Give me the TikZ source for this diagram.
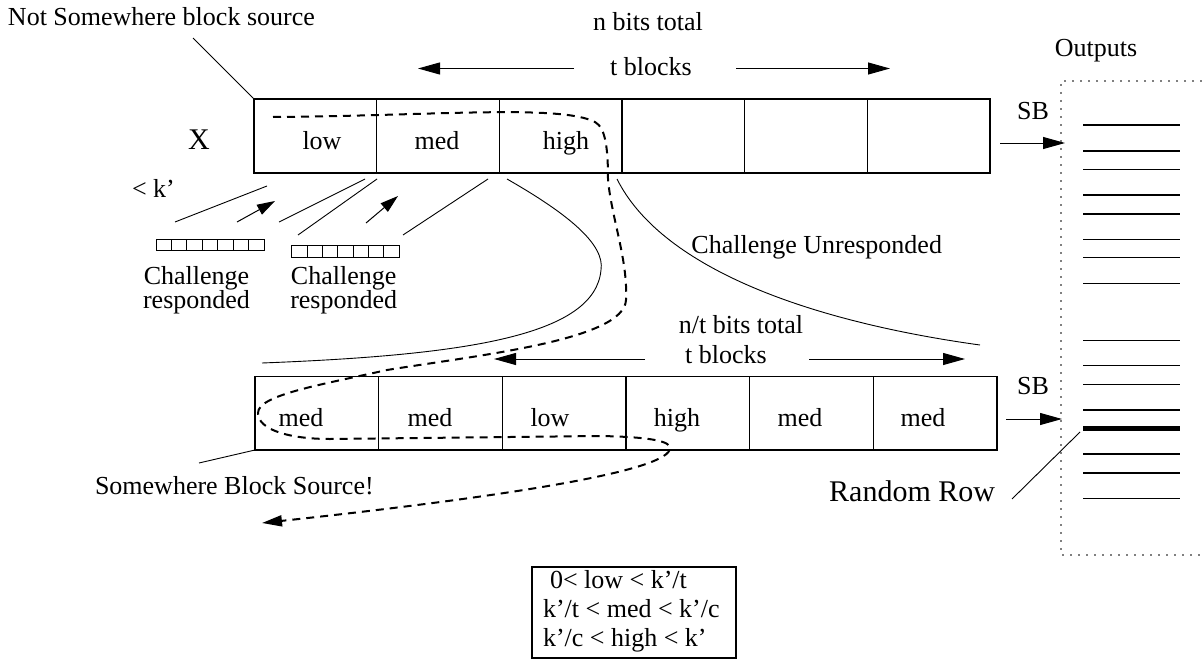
\documentclass[tikz,border=0pt]{standalone}
\usepackage{fontspec}
\setmainfont{Liberation Serif}
\usetikzlibrary{arrows.meta}
\begin{document}
\begin{tikzpicture}[x=1pt,y=-1pt,
  every node/.style={inner sep=0pt, outer sep=0pt, font=\fontsize{26}{28}\selectfont},
  big/.style={font=\fontsize{30}{34}\selectfont},
  twoline/.style={align=center, font=\fontsize{26}{22.7}\selectfont},
  cell/.style={draw, line width=1.1pt, minimum width=122.67pt, minimum height=74pt},
  lcell/.style={draw, line width=1.1pt, minimum width=123.67pt, minimum height=73.3pt},
  mini/.style={draw, line width=0.9pt, minimum width=15.4pt, minimum height=11.6pt},
  thin/.style={line width=0.9pt},
  arr/.style={line width=1pt, -{Triangle[length=22pt,width=12pt]}},
  sarr/.style={line width=1pt, -{Triangle[length=18pt,width=11pt]}},
  dpath/.style={line width=2pt, dash pattern=on 8pt off 6pt, -{Triangle[length=20pt,width=11pt]}},
  dotline/.style={line width=2.2pt, gray, dash pattern=on 1.6pt off 6.4pt},
  outl/.style={line width=1.3pt},
  thick out/.style={line width=5pt}
]
\useasboundingbox (0,0) rectangle (1202,661);

% ---------- top block source ----------
\foreach \i in {1,...,6} {
  \node[cell] (t\i) at ({254+61.33+(\i-1)*122.67},136) {};
}
\node[anchor=base] (tlow) at (322,149) {low};
\node[anchor=base] (tmed) at (437,149) {med};
\node[anchor=base] (thigh) at (566,149) {high};
\node[big,anchor=base] (X) at (199,149.5) {X};

\node[anchor=base west] (nsb) at (8,26) {Not Somewhere block source};
\coordinate (nsbend) at (193,38);
\draw[thin] (nsbend) -- (t1.north west);

\node[anchor=base] (nbits) at (648,31) {n bits total};
\node[anchor=base] (tblk) at (651,75) {t blocks};
\coordinate (ta1) at (574,68.5);
\coordinate (ta2) at (418,68.5);
\coordinate (ta3) at (736,68.5);
\coordinate (ta4) at (890,68.5);
\draw[arr] (ta1) -- (ta2);
\draw[arr] (ta3) -- (ta4);

% ---------- challenges ----------
\node[anchor=base west] (kp) at (132,197.5) {< k’};
\foreach \i in {0,...,6} {
  \node[mini] (a\i) at ({156+7.71+\i*15.43},244.9) {};
  \node[mini] (c\i) at ({291.7+7.69+\i*15.37},251.5) {};
}
\node[twoline, anchor=north] (ch1) at (196.5,266) {Challenge\\responded};
\node[twoline, anchor=north] (ch2) at (343.7,266) {Challenge\\responded};

\coordinate (l1a) at (175,222);   \coordinate (l1b) at (267,186);
\coordinate (r1a) at (237,222);   \coordinate (r1b) at (275,201);
\coordinate (l3a) at (279,222);   \coordinate (l3b) at (365,179);
\coordinate (l4a) at (298,235);   \coordinate (l4b) at (377,179);
\coordinate (r2a) at (366,223);   \coordinate (r2b) at (398,196);
\coordinate (l6a) at (403,235);   \coordinate (l6b) at (488,179);
\draw[thin] (l1a) -- (l1b);
\draw[sarr] (r1a) -- (r1b);
\draw[thin] (l3a) -- (l3b);
\draw[thin] (l4a) -- (l4b);
\draw[sarr] (r2a) -- (r2b);
\draw[thin] (l6a) -- (l6b);

% ---------- solid curves ----------
\coordinate (ca0) at (507,179);
\coordinate (ca1) at (601,270);
\coordinate (ca2) at (262,363);
\draw[thin] (ca0) .. controls (570,215) and (605,245) .. (ca1)
                   .. controls (595,335) and (470,355) .. (ca2);
\coordinate (cb0) at (617,179);
\coordinate (cb1) at (980,345);
\draw[thin] (cb0) .. controls (660,265) and (800,320) .. (cb1);
\node[anchor=base] (cu) at (816.7,253) {Challenge Unresponded};

% ---------- lower block source ----------
\foreach \i in {1,...,6} {
  \node[lcell] (b\i) at ({255+61.83+(\i-1)*123.67},413.35) {};
}
\node[anchor=base] (bl1) at (301,426) {med};
\node[anchor=base] (bl2) at (430,426) {med};
\node[anchor=base] (bl3) at (550,426) {low};
\node[anchor=base] (bl4) at (677,426) {high};
\node[anchor=base] (bl5) at (800,426) {med};
\node[anchor=base] (bl6) at (923,426) {med};

\node[anchor=base] (ntbits) at (741,333) {n/t bits total};
\node[anchor=base] (tblk2) at (726,363.3) {t blocks};
\coordinate (ba1) at (645,359);
\coordinate (ba2) at (494,359);
\coordinate (ba3) at (809,359);
\coordinate (ba4) at (965,359);
\draw[arr] (ba1) -- (ba2);
\draw[arr] (ba3) -- (ba4);

\node[anchor=base west] (swb) at (95,494) {Somewhere Block Source!};
\coordinate (swbend) at (199,463);
\draw[thin] (swbend) -- (b1.south west);

% ---------- dashed path ----------
\coordinate (d0) at (273,117);
\coordinate (dend) at (262,523);
\draw[dpath] (d0) .. controls (430,116) and (560,104) .. (595,122)
  .. controls (606,128) and (608,150) .. (608,180)
  .. controls (612,220) and (628,260) .. (626,300)
  .. controls (624,340) and (480,355) .. (387,370)
  .. controls (320,385) and (258,395) .. (258,413)
  .. controls (258,430) and (290,439) .. (330,439)
  -- (600,436)
  .. controls (655,437) and (670,442) .. (670,448)
  .. controls (670,470) and (520,495) .. (dend);

% ---------- outputs ----------
\node[anchor=base] (outp) at (1096,57) {Outputs};
\coordinate (ob1) at (1202,81);
\coordinate (ob2) at (1061,81);
\coordinate (ob3) at (1061,555);
\coordinate (ob4) at (1202,555);
\draw[dotline] (ob1) -- (ob2) -- (ob3) -- (ob4);
\foreach \y [count=\k] in {125.1,150.9,169.5,194.9,213.9,239.2,257.8,283.2,340.2,365.5,384.6,409.9,453.9,472.9,498.2} {
  \coordinate (oL\k) at (1083,\y);
  \coordinate (oR\k) at (1180,\y);
  \draw[outl] (oL\k) -- (oR\k);
}
\coordinate (rrL) at (1083,428.9);
\coordinate (rrR) at (1180,428.9);
\draw[thick out] (rrL) -- (rrR);

\node[anchor=base] (sb1) at (1033,119) {SB};
\node[anchor=base] (sb2) at (1033,394) {SB};
\coordinate (s1a) at (1000,143);  \coordinate (s1b) at (1065,143);
\coordinate (s2a) at (1006,419);  \coordinate (s2b) at (1062,419);
\draw[arr] (s1a) -- (s1b);
\draw[arr] (s2a) -- (s2b);

\node[big,anchor=base east] (rr) at (995,501) {Random Row};
\coordinate (rr1) at (1012,499);
\coordinate (rr2) at (1080,432);
\draw[thin] (rr1) -- (rr2);

% ---------- legend ----------
\node[draw, line width=1.1pt, minimum width=204pt, minimum height=91pt] (legend) at (634,612.5) {};
\node[anchor=base west] (lg1) at (550,588) {0< low < k’/t};
\node[anchor=base west] (lg2) at (543,617) {k’/t < med < k’/c};
\node[anchor=base west] (lg3) at (543,646) {k’/c < high < k’};
\end{tikzpicture}
\end{document}
